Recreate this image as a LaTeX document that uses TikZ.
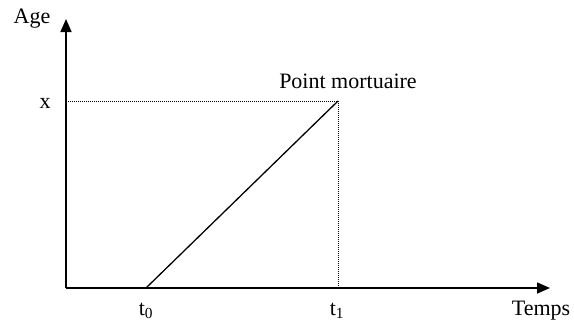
\documentclass[tikz,border=0pt]{standalone}
\usepackage{fontspec}
\setmainfont{Liberation Serif}
\usetikzlibrary{arrows.meta}
\begin{document}
\begin{tikzpicture}[x=1pt,y=-1pt,
  axis/.style={line width=1.6pt,-{Triangle[length=13pt,width=11pt]}},
  guide/.style={line width=1pt,dash pattern=on 1pt off 1pt},
  lbl/.style={font=\fontsize{22}{25}\selectfont,inner sep=0pt}]
\useasboundingbox (0,0) rectangle (574,327);
\coordinate (O) at (66,288);
\coordinate (Ytop) at (66,19);
\coordinate (Xend) at (550,288);
\coordinate (X) at (66,101);
\coordinate (P) at (338,101);
\coordinate (T0) at (146,288);
\coordinate (T1) at (338,288);
\draw[axis] (O) -- (Ytop);
\draw[axis] (O) -- (Xend);
\draw[guide] (X) -- (P);
\draw[guide] (P) -- (T1);
\draw[line width=1.3pt] (T0) -- (P);
\node[lbl] (age) at (32,19) {Age};
\node[lbl] (xl) at (45,103) {x};
\node[lbl] (pm) at (348,81) {Point mortuaire};
\node[lbl] (t0) at (146,311) {t\textsubscript{0}};
\node[lbl] (t1) at (337,311) {t\textsubscript{1}};
\node[lbl] (temps) at (541,311) {Temps};
\end{tikzpicture}
\end{document}
